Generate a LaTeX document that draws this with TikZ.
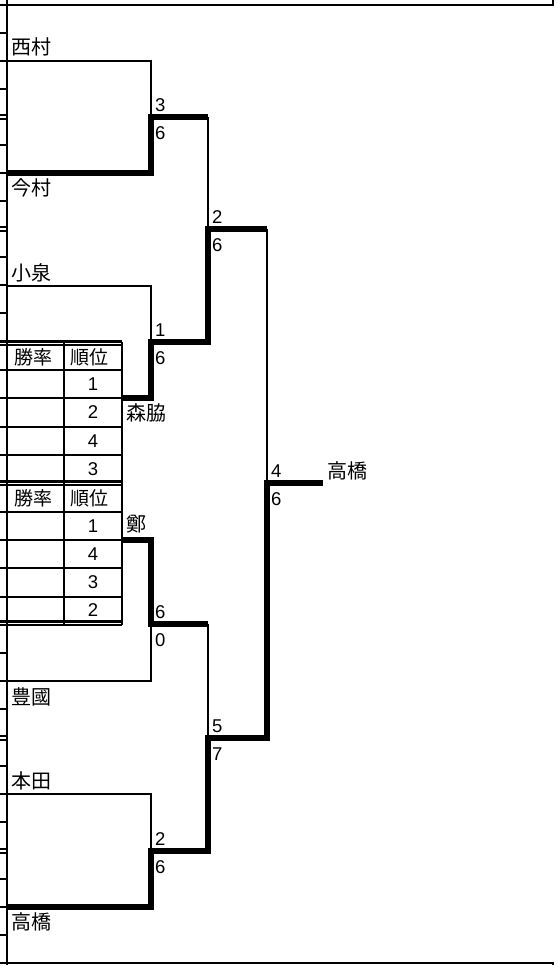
\documentclass[tikz,border=0pt]{standalone}
\usepackage{fontspec}
\setmainfont{Noto Sans CJK JP}
\newfontfamily\numfont{Liberation Sans}
\usetikzlibrary{positioning,calc}

\begin{document}
\begin{tikzpicture}[
    x=1pt, y=-1pt,
    lose/.style={line width=2.1pt},
    win/.style={line width=5.8pt},
    rule/.style={line width=2.2pt},
    player/.style={font=\fontsize{20}{20}\selectfont, inner sep=0pt, anchor=west},
    score/.style={font=\numfont\fontsize{18.5}{18.5}\selectfont, inner sep=0pt, anchor=west},
    cell/.style={font=\fontsize{19}{19}\selectfont, inner sep=0pt},
    digit/.style={font=\numfont\fontsize{18.5}{18.5}\selectfont, inner sep=0pt}
]
    \useasboundingbox (0,0) rectangle (557,965);

    % sheet frame and row ticks
    \draw[rule] (553,0) -- (553,5) -- (0,5);
    \draw[rule] (553,965) -- (553,963) -- (0,963);
    \draw[rule] (7,0) -- (7,965);
    \foreach \y in {33,61,89,145,173,201,257,285,313,653,681,709,766,794,822,879,907,935}
        \draw[rule] (0,\y) -- (7,\y);
    \foreach \y in {117,229,738,851}
        \draw[rule] (0,\y-1.8) -- (7,\y-1.8) (0,\y+1.8) -- (7,\y+1.8);

    % ranking tables
    \foreach \y in {341.5,345,370,398,427,455,481.5,485,512,540,568,597,621.5,625}
        \draw[rule] (0,\y) -- (122,\y);
    \draw[rule] (64,341.5) -- (64,625);
    \draw[rule] (122,341.5) -- (122,625);
    \node[cell] (rateA) at (33,357) {勝率};
    \node[cell] (rankA) at (89,357) {順位};
    \node[digit] (rankA1) at (93,384) {1};
    \node[digit] (rankA2) at (93,412) {2};
    \node[digit] (rankA3) at (93,441) {4};
    \node[digit] (rankA4) at (93,469) {3};
    \node[cell] (rateB) at (33,498) {勝率};
    \node[cell] (rankB) at (89,498) {順位};
    \node[digit] (rankB1) at (93,526) {1};
    \node[digit] (rankB2) at (93,554) {4};
    \node[digit] (rankB3) at (93,582) {3};
    \node[digit] (rankB4) at (93,610) {2};

    % bracket points
    \coordinate (nishimuraL) at (7,61);     \coordinate (nishimuraR) at (151,61);
    \coordinate (imamuraL) at (7,173);      \coordinate (imamuraR) at (151,173);
    \coordinate (koizumiL) at (7,286);      \coordinate (koizumiR) at (151,286);
    \coordinate (moriwakiL) at (122,398);   \coordinate (moriwakiR) at (151,398);
    \coordinate (teiL) at (122,540);        \coordinate (teiR) at (151,540);
    \coordinate (toyokuniL) at (7,681);     \coordinate (toyokuniR) at (151,681);
    \coordinate (hondaL) at (7,794);        \coordinate (hondaR) at (151,794);
    \coordinate (takahashiL) at (7,907);    \coordinate (takahashiR) at (151,907);
    \coordinate (m1) at (151,117);  \coordinate (m1R) at (208,117);
    \coordinate (m2) at (151,342);  \coordinate (m2R) at (208,342);
    \coordinate (m3) at (151,624);  \coordinate (m3R) at (208,624);
    \coordinate (m4) at (151,851);  \coordinate (m4R) at (208,851);
    \coordinate (sf1) at (208,229); \coordinate (sf1R) at (267,229);
    \coordinate (sf2) at (208,738); \coordinate (sf2R) at (267,738);
    \coordinate (fin) at (267,483); \coordinate (finR) at (323,483);

    \node[player] (nishimura) at (11,47) {西村};
    \node[player] (imamura) at (11,188) {今村};
    \node[player] (koizumi) at (11,273) {小泉};
    \node[player] (moriwaki) at (126,413) {森脇};
    \node[player] (tei) at (126,524) {鄭};
    \node[player] (toyokuni) at (11,697) {豊國};
    \node[player] (honda) at (11,781) {本田};
    \node[player] (takahashi) at (11,922) {高橋};
    \node[player] (champion) at (327,471) {高橋};

    \draw[lose] (nishimuraL) -- (nishimuraR) -- (m1);
    \draw[lose] (koizumiL) -- (koizumiR) -- (m2);
    \draw[lose] (toyokuniL) -- (toyokuniR) -- (m3);
    \draw[lose] (hondaL) -- (hondaR) -- (m4);
    \draw[lose] (m1R) -- (sf1);
    \draw[lose] (m3R) -- (sf2);
    \draw[lose] (sf1R) -- (fin);
    \draw[win] (imamuraL) -- (imamuraR) -- (m1) -- (m1R);
    \draw[win] (moriwakiL) -- (moriwakiR) -- (m2) -- (m2R) -- (sf1) -- (sf1R);
    \draw[win] (teiL) -- (teiR) -- (m3) -- (m3R);
    \draw[win] (takahashiL) -- (takahashiR) -- (m4) -- (m4R) -- (sf2) -- (sf2R) -- (fin) -- (finR);

    \node[score] (m1top) at ($(m1)+(4,-12)$) {3};
    \node[score] (m1bot) at ($(m1)+(4,16.5)$) {6};
    \node[score] (m2top) at ($(m2)+(4,-12)$) {1};
    \node[score] (m2bot) at ($(m2)+(4,16.5)$) {6};
    \node[score] (m3top) at ($(m3)+(4,-12)$) {6};
    \node[score] (m3bot) at ($(m3)+(4,16.5)$) {0};
    \node[score] (m4top) at ($(m4)+(4,-12)$) {2};
    \node[score] (m4bot) at ($(m4)+(4,16.5)$) {6};
    \node[score] (sf1top) at ($(sf1)+(4,-12)$) {2};
    \node[score] (sf1bot) at ($(sf1)+(4,16.5)$) {6};
    \node[score] (sf2top) at ($(sf2)+(4,-12)$) {5};
    \node[score] (sf2bot) at ($(sf2)+(4,16.5)$) {7};
    \node[score] (fintop) at ($(fin)+(4,-12)$) {4};
    \node[score] (finbot) at ($(fin)+(4,16.5)$) {6};
\end{tikzpicture}
\end{document}
